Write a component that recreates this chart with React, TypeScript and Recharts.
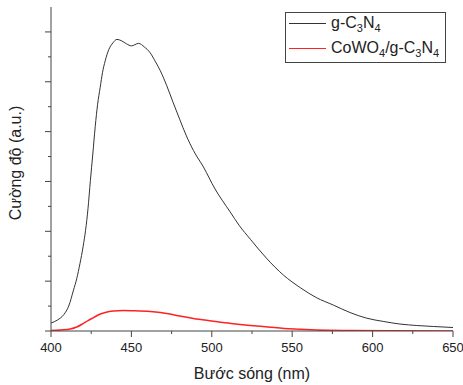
import React from "react";
import { LineChart, Line, XAxis, YAxis } from "recharts";

// g-C3N4 PL spectrum
const bareNm = [
  400, 404, 408, 411, 414, 416, 418, 420, 421.5, 423, 424.5, 426, 427.5, 429,
  430.6, 432, 433.7, 436, 438.5, 441, 444, 447, 450, 454.5, 458, 461.7, 465,
  468, 472, 476, 480, 484, 488.6, 494.8, 502, 511.4, 517, 524, 534, 544.6, 555,
  565, 575.6, 586, 596, 607, 617, 627.5, 638, 650,
];
const bareVal = [
  0.16, 0.22, 0.33, 0.5, 0.82, 1.05, 1.35, 1.7, 2.02, 2.45, 3.02, 3.55, 4.1,
  4.55, 4.89, 5.18, 5.42, 5.65, 5.78, 5.85, 5.82, 5.76, 5.72, 5.77, 5.7, 5.58,
  5.4, 5.22, 4.92, 4.58, 4.25, 3.93, 3.62, 3.29, 2.85, 2.39, 2.12, 1.84, 1.46,
  1.12, 0.87, 0.67, 0.52, 0.37, 0.26, 0.19, 0.14, 0.11, 0.09, 0.07,
];

// CoWO4/g-C3N4 PL spectrum
const compNm = [
  400, 406, 412, 416, 420, 423, 426.5, 430, 433.7, 438.9, 445, 452, 461.7, 468,
  474, 480, 488.6, 500, 512, 524, 535, 545, 555, 565, 586, 610, 650,
];
const compVal = [
  0.01, 0.02, 0.04, 0.08, 0.15, 0.21, 0.27, 0.33, 0.37, 0.4, 0.41, 0.405, 0.39,
  0.37, 0.34, 0.3, 0.25, 0.2, 0.15, 0.11, 0.08, 0.05, 0.035, 0.02, 0.01, 0.004,
  0,
];

const xTicks = [400, 425, 450, 475, 500, 525, 550, 575, 600, 625, 650];
const yTicks = [0, 0.5, 1, 1.5, 2, 2.5, 3, 3.5, 4, 4.5, 5, 5.5, 6];

const bareData = bareNm.map((x, i) => ({ x, y: bareVal[i] }));
const compData = compNm.map((x, i) => ({ x, y: compVal[i] }));

const AXIS = "#444";
const FONT = "Arial, 'Liberation Sans', sans-serif";
const TS = 6;
const TM = 2;

const XTick = (props: any) => {
  const { x, y, payload } = props;
  const axisY = y - TS - TM;
  const major = payload.value % 50 === 0;
  return (
    <g>
      <line x1={x} x2={x} y1={axisY} y2={axisY + (major ? 6 : 3)} stroke={AXIS} />
      {major && (
        <text x={x} y={axisY + 21} textAnchor="middle" fontSize={13} fill="#222" fontFamily={FONT}>
          {payload.value}
        </text>
      )}
    </g>
  );
};

const YTick = (props: any) => {
  const { x, y, payload } = props;
  const axisX = x + TS + TM;
  const major = Number.isInteger(payload.value);
  return <line x1={axisX - (major ? 6 : 3)} x2={axisX} y1={y} y2={y} stroke={AXIS} />;
};

const Sub = ({ children }: { children: React.ReactNode }) => (
  <span style={{ fontSize: 11, position: "relative", top: 4 }}>{children}</span>
);

export default function App() {
  return (
    <div style={{ position: "absolute", left: 0, top: 0, width: 463, height: 385, background: "#fff", fontFamily: FONT }}>
      <LineChart width={463} height={385} margin={{ top: 7, right: 10, left: 0, bottom: 0 }}>
        <XAxis
          xAxisId={0}
          type="number"
          dataKey="x"
          domain={[400, 650]}
          ticks={xTicks}
          interval={0}
          allowDataOverflow
          height={54}
          tickSize={TS}
          tickMargin={TM}
          tickLine={false}
          tick={<XTick />}
          axisLine={{ stroke: AXIS }}
          label={{
            content: (p: any) => (
              <text
                x={p.viewBox.x + p.viewBox.width / 2}
                y={p.viewBox.y + 48}
                textAnchor="middle"
                fontSize={16}
                fill="#222"
                fontFamily={FONT}
              >
                Bước sóng (nm)
              </text>
            ),
          }}
        />
        <XAxis xAxisId="top" orientation="top" type="number" domain={[400, 650]} height={0} tick={false} tickLine={false} axisLine={{ stroke: AXIS }} />
        <YAxis
          yAxisId={0}
          type="number"
          domain={[0, 6.5]}
          ticks={yTicks}
          interval={0}
          allowDataOverflow
          width={51}
          tickSize={TS}
          tickMargin={TM}
          tickLine={false}
          tick={<YTick />}
          axisLine={{ stroke: AXIS }}
          label={{
            content: (p: any) => {
              const cy = p.viewBox.y + p.viewBox.height / 2 - 6;
              return (
                <text
                  x={15}
                  y={cy}
                  transform={`rotate(-90 15 ${cy})`}
                  textAnchor="middle"
                  dominantBaseline="central"
                  fontSize={16}
                  fill="#222"
                  fontFamily={FONT}
                >
                  Cường độ (a.u.)
                </text>
              );
            },
          }}
        />
        <YAxis yAxisId="right" orientation="right" domain={[0, 6.5]} width={0} tick={false} tickLine={false} axisLine={{ stroke: AXIS }} />
        <Line data={bareData} dataKey="y" type="monotone" stroke="#333" strokeWidth={1} dot={false} isAnimationActive={false} />
        <Line data={compData} dataKey="y" type="monotone" stroke="#f22" strokeWidth={1.5} dot={false} isAnimationActive={false} />
      </LineChart>
      <div
        style={{
          position: "absolute",
          left: 285,
          top: 12,
          width: 161,
          height: 51,
          boxSizing: "border-box",
          border: `1px solid ${AXIS}`,
          background: "#fff",
          fontSize: 16,
          color: "#222",
        }}
      >
        <div style={{ position: "absolute", left: 3, top: 10, width: 37, height: 1, background: "#333" }} />
        <div style={{ position: "absolute", left: 45, top: 1, lineHeight: "18px", whiteSpace: "nowrap" }}>
          g-C<Sub>3</Sub>N<Sub>4</Sub>
        </div>
        <div style={{ position: "absolute", left: 3, top: 35, width: 37, height: 1, background: "#f22" }} />
        <div style={{ position: "absolute", left: 45, top: 26, lineHeight: "18px", whiteSpace: "nowrap" }}>
          CoWO<Sub>4</Sub>/g-C<Sub>3</Sub>N<Sub>4</Sub>
        </div>
      </div>
    </div>
  );
}
